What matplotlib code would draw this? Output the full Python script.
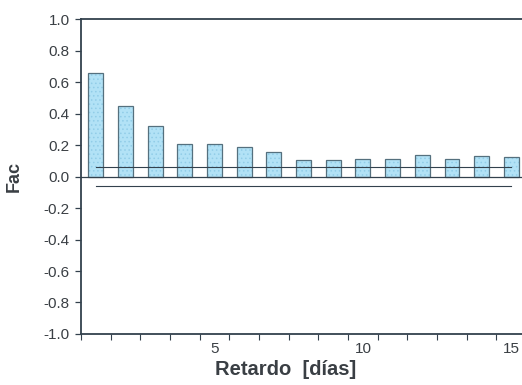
import numpy as np
import matplotlib
matplotlib.use("Agg")
import matplotlib.pyplot as plt
from matplotlib.ticker import FixedLocator, FuncFormatter

plt.rcParams['font.family'] = ['Liberation Sans', 'DejaVu Sans']
plt.rcParams['hatch.linewidth'] = 0.6

# autocorrelation by lag (days)
lags = np.arange(1, 16)
fac = [0.657, 0.445, 0.318, 0.204, 0.204, 0.19, 0.157, 0.105, 0.105,
       0.109, 0.109, 0.138, 0.109, 0.132, 0.122]
conf = 0.063  # confidence band
x_labels = [5, 10, 15]
y_ticks = [-1.0, -0.8, -0.6, -0.4, -0.2, 0.0, 0.2, 0.4, 0.6, 0.8, 1.0]

ink = '#33414d'
txt = '#3a3f44'

fig = plt.figure(figsize=(5.22, 3.85), dpi=100)
ax = fig.add_axes([0.155, 0.1325, 0.853, 0.818])

# fill with a dotted texture, then outline
ax.bar(lags, fac, width=0.5, color='#b2e2f6', edgecolor='#92cde8',
       hatch='....', linewidth=0, zorder=2)
ax.bar(lags, fac, width=0.5, fill=False, edgecolor='#55707e',
       linewidth=0.9, zorder=3)

ax.axhline(0, color=ink, lw=0.9, zorder=4)
ax.plot([lags[0], lags[-1]], [conf, conf], color=ink, lw=0.8, zorder=4)
ax.plot([lags[0], lags[-1]], [-conf, -conf], color=ink, lw=0.8, zorder=4)

ax.set_xlim(0.5, 15.5)
ax.set_ylim(-1.0, 1.0)

ax.yaxis.set_major_locator(FixedLocator(y_ticks))
ax.yaxis.set_major_formatter(FuncFormatter(lambda v, p: f'{v + 0.0:.1f}'.replace('-0.0', '0.0')))
ax.xaxis.set_major_locator(FixedLocator(x_labels))
ax.xaxis.set_minor_locator(FixedLocator(np.arange(0.5, 15.6, 1.0)))
ax.xaxis.set_major_formatter(FuncFormatter(lambda v, p: f'{v:.0f}'))

ax.tick_params(axis='y', direction='out', length=4, width=0.9, color=ink,
               labelsize=11, labelcolor=txt, pad=4)
ax.tick_params(axis='x', which='major', length=0, labelsize=11,
               labelcolor=txt, pad=6)
ax.tick_params(axis='x', which='minor', direction='out', length=4,
               width=0.8, color=ink)

for side in ['left', 'bottom', 'top']:
    ax.spines[side].set_color(ink)
    ax.spines[side].set_linewidth(1.3)
ax.spines['right'].set_visible(False)

ax.set_ylabel('Fac', fontsize=13, fontweight='bold', color=txt, labelpad=15)
ax.set_xlabel('Retardo  [días]', fontsize=14.5, fontweight='bold', color=txt,
              labelpad=3, x=0.46)

fig.savefig('out.png', dpi=100)
